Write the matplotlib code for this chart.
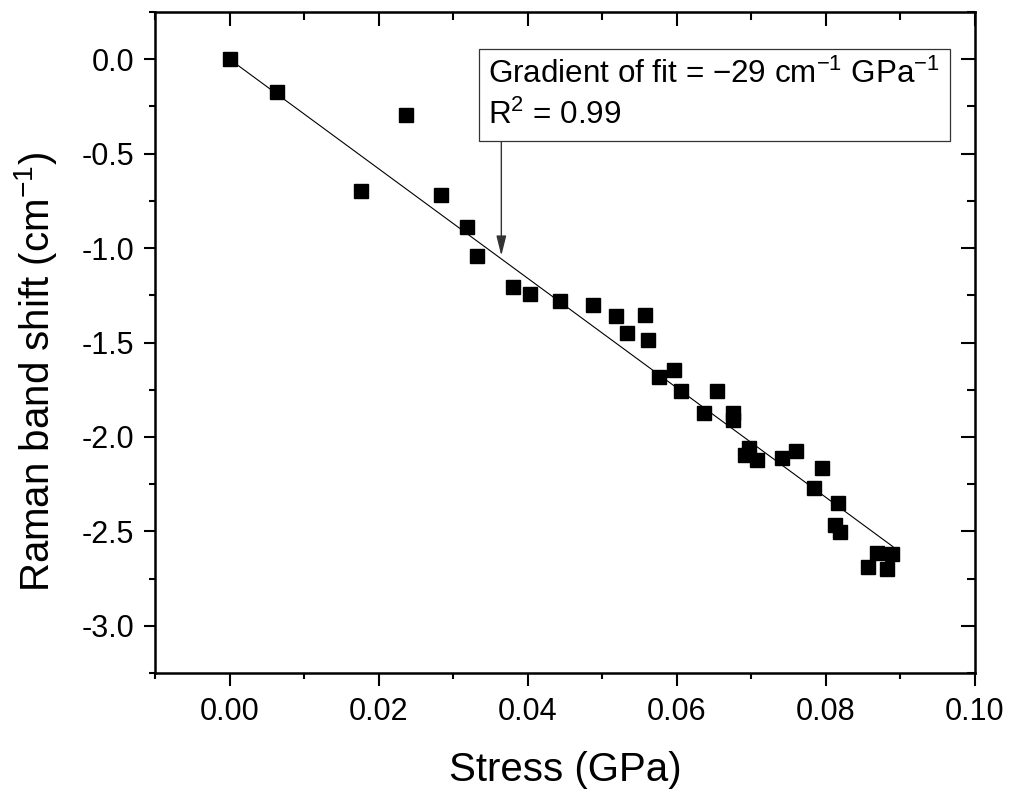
import matplotlib
matplotlib.use("Agg")
import matplotlib.pyplot as plt
import numpy as np
from matplotlib.ticker import MultipleLocator

plt.rcParams['font.family'] = ['Liberation Sans', 'DejaVu Sans']
plt.rcParams['mathtext.fontset'] = 'custom'
plt.rcParams['mathtext.rm'] = 'Liberation Sans'
plt.rcParams['mathtext.it'] = 'Liberation Sans:italic'

stress = [0.0, 0.0063, 0.01765, 0.02368, 0.02842, 0.03181, 0.0332,
          0.03798, 0.04025, 0.04428, 0.0487, 0.05184, 0.05335, 0.05567,
          0.05617, 0.05755, 0.05961, 0.06063, 0.06538, 0.06371, 0.06752,
          0.06752, 0.06975, 0.06917, 0.07082, 0.07409, 0.07601, 0.07945,
          0.07846, 0.0816, 0.0812, 0.0819, 0.08682, 0.08887, 0.0857, 0.08816]
shift = [0.0, -0.173, -0.699, -0.294, -0.717, -0.889, -1.041,
         -1.208, -1.241, -1.278, -1.303, -1.359, -1.452, -1.356,
         -1.488, -1.680, -1.644, -1.757, -1.757, -1.871, -1.875,
         -1.912, -2.060, -2.097, -2.123, -2.113, -2.074, -2.165,
         -2.271, -2.352, -2.465, -2.505, -2.614, -2.620, -2.690, -2.697]

fit_slope = -29.0
fit_x = [0.0, 0.0890]

xtick_vals = [0.0, 0.02, 0.04, 0.06, 0.08, 0.10]
xtick_labels = ['0.00', '0.02', '0.04', '0.06', '0.08', '0.10']
ytick_vals = [0.0, -0.5, -1.0, -1.5, -2.0, -2.5, -3.0]
ytick_labels = ['0.0', '-0.5', '-1.0', '-1.5', '-2.0', '-2.5', '-3.0']

fig = plt.figure(figsize=(10.10, 7.89), dpi=100)
ax = fig.add_axes([0.1535, 0.147, 0.8118, 0.8378])

ax.plot(stress, shift, 's', color='black', markersize=10.3, zorder=3)
fx = np.array(fit_x)
ax.plot(fx, fit_slope * fx, '-', color='black', linewidth=0.8, zorder=2)

ax.set_xlim(-0.01, 0.10)
ax.set_ylim(-3.25, 0.25)
ax.set_xticks(xtick_vals)
ax.set_xticklabels(xtick_labels)
ax.set_yticks(ytick_vals)
ax.set_yticklabels(ytick_labels)
ax.xaxis.set_minor_locator(MultipleLocator(0.01))
ax.yaxis.set_minor_locator(MultipleLocator(0.25))

for s in ax.spines.values():
    s.set_linewidth(1.8)
ax.tick_params(axis='x', which='major', direction='out', length=9, width=1.5, labelsize=22, pad=8.5)
ax.tick_params(axis='y', which='major', direction='out', length=8, width=1.5, labelsize=22, pad=7)
ax.tick_params(which='minor', direction='out', length=4.5, width=1.5)

top = ax.secondary_xaxis('top')
top.set_xticks(xtick_vals)
top.xaxis.set_minor_locator(MultipleLocator(0.01))
top.tick_params(which='major', direction='in', length=10, width=1.5, labeltop=False)
top.tick_params(which='minor', direction='in', length=5.5, width=1.5)
right = ax.secondary_yaxis('right')
right.set_yticks(ytick_vals)
right.yaxis.set_minor_locator(MultipleLocator(0.25))
right.tick_params(which='major', direction='in', length=10, width=1.5, labelright=False)
right.tick_params(which='minor', direction='in', length=5.5, width=1.5)

ax.set_xlabel('Stress (GPa)', fontsize=29, labelpad=17)
ax.set_ylabel('Raman band shift (cm$^{-1}$)', fontsize=29)
ax.yaxis.set_label_coords(-0.117, 0.455)

ax.text(0.03472, -0.19,
        'Gradient of fit = \u221229 cm$^{\u22121}$ GPa$^{\u22121}$\nR$^{2}$ = 0.99',
        fontsize=22.6, ha='left', va='center', linespacing=1.42, zorder=5,
        bbox=dict(boxstyle='square,pad=0.3', fc='white', ec='#333333', lw=0.9))
ax.annotate('', xy=(0.03646, -1.040), xytext=(0.03646, -0.40),
            arrowprops=dict(arrowstyle='-|>,head_length=0.6,head_width=0.15',
                            mutation_scale=20, color='#333333', lw=1.0,
                            shrinkA=0, shrinkB=0), zorder=4)

fig.savefig('out.png', dpi=100)
